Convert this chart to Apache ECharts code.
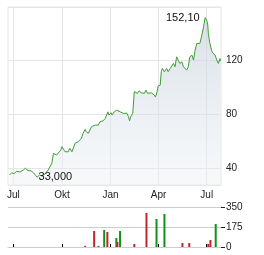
<!DOCTYPE html>
<html><head><meta charset="utf-8">
<script src="https://cdn.jsdelivr.net/npm/echarts@6/dist/echarts.min.js"></script>
<style>html,body{margin:0;padding:0;background:#fff}#c{width:264px;height:255px}</style>
</head><body><div id="c"></div>
<script>
const startDate = '2023-06-21';
const endDate = '2024-07-28';
const monthLabels = {'01':'Jan','04':'Apr','07':'Jul','10':'Okt'};
const priceMin = 27.2, priceMax = 160, priceStep = 40;
const volMax = 350, volStep = 175;

const priceDates = ['2023-06-24','2023-06-28','2023-07-02','2023-07-07','2023-07-14','2023-07-20','2023-07-24','2023-07-29','2023-08-04','2023-08-08','2023-08-12','2023-08-15','2023-08-20','2023-08-24','2023-08-30','2023-09-05','2023-09-12','2023-09-15','2023-09-18','2023-09-21','2023-09-24','2023-09-29','2023-10-01','2023-10-04','2023-10-07','2023-10-10','2023-10-13','2023-10-16','2023-10-20','2023-10-23','2023-10-26','2023-10-29','2023-11-01','2023-11-04','2023-11-07','2023-11-10','2023-11-14','2023-11-16','2023-11-20','2023-11-23','2023-11-26','2023-11-29','2023-12-03','2023-12-06','2023-12-09','2023-12-12','2023-12-15','2023-12-18','2023-12-22','2023-12-25','2023-12-27','2023-12-29','2024-01-02','2024-01-04','2024-01-08','2024-01-13','2024-01-16','2024-01-19','2024-01-22','2024-01-25','2024-01-28','2024-02-01','2024-02-04','2024-02-06','2024-02-08','2024-02-12','2024-02-14','2024-02-15','2024-02-18','2024-02-21','2024-02-24','2024-02-28','2024-03-02','2024-03-05','2024-03-08','2024-03-11','2024-03-14','2024-03-18','2024-03-21','2024-03-24','2024-03-26','2024-03-29','2024-03-31','2024-04-04','2024-04-06','2024-04-08','2024-04-12','2024-04-16','2024-04-19','2024-04-23','2024-04-26','2024-04-29','2024-05-02','2024-05-05','2024-05-08','2024-05-11','2024-05-15','2024-05-18','2024-05-21','2024-05-24','2024-05-27','2024-05-30','2024-06-03','2024-06-06','2024-06-09','2024-06-12','2024-06-15','2024-06-18','2024-06-21','2024-06-25','2024-06-28','2024-07-01','2024-07-03','2024-07-04','2024-07-07','2024-07-10','2024-07-13','2024-07-17','2024-07-20','2024-07-23','2024-07-26','2024-07-27'];
const priceValues = [34.7,36.4,35.6,37.4,36.9,38.4,39.7,37.9,37.7,36.4,34.5,33.0,34.7,33.9,35.4,38.4,43.4,50.8,52.0,49.6,48.3,53.3,55.8,54.6,52.0,53.3,52.0,54.6,52.0,53.3,58.3,58.7,59.5,60.2,62.0,65.8,68.7,66.9,65.8,68.2,70.7,69.5,71.9,72.7,71.9,74.4,75.7,75.1,76.9,78.1,81.8,79.4,81.1,79.4,81.8,83.1,84.4,81.8,83.1,80.7,79.4,80.7,78.1,75.1,78.1,80.7,81.8,96.8,98.0,95.6,97.5,96.0,96.8,95.6,98.0,95.6,94.3,96.0,96.8,94.3,92.8,96.8,101.0,101.7,111.7,114.2,111.7,114.2,111.7,114.2,112.9,117.9,115.4,122.8,120.4,117.9,119.1,115.4,116.6,112.9,115.4,122.8,124.1,120.4,127.8,132.8,134.0,132.8,137.7,145.2,152.1,150.2,146.5,140.3,132.8,127.8,125.4,124.1,120.4,117.9,121.6,119.6];

const volDates = ['2023-11-14','2023-12-01','2023-12-09','2023-12-20','2023-12-26','2024-01-12','2024-01-14','2024-01-19','2024-02-15','2024-03-09','2024-03-28','2024-04-12','2024-05-16','2024-05-29','2024-07-04','2024-07-08','2024-07-18'];
const volValues = [10,140,10,149,131,79,44,140,26,298,245,289,35,35,26,61,201];
const volUp = [false,false,true,true,false,true,false,true,false,false,true,true,false,false,false,false,true];

// axis domain: one category per calendar day
const categories = [];
for (let d = new Date(startDate + 'T00:00:00Z'); d <= new Date(endDate + 'T00:00:00Z'); d.setUTCDate(d.getUTCDate() + 1)) {
  categories.push(d.toISOString().slice(0, 10));
}
const isQuarterStart = (i, v) => v.slice(8) === '01' && monthLabels[v.slice(5, 7)] !== undefined;

const fontFamily = '"Liberation Sans", Arial, sans-serif';
const chart = echarts.init(document.getElementById('c'), null, {renderer: 'canvas'});
chart.setOption({
  animation: false,
  grid: [
    {left: 8, right: 43, top: 7, bottom: 70, show: true, borderColor: '#e6e6e6', borderWidth: 1},
    {left: 8, right: 43, top: 207, bottom: 8}
  ],
  xAxis: [
    {
      type: 'category', gridIndex: 0, data: categories, boundaryGap: false,
      axisLine: {show: false}, axisTick: {show: false},
      axisLabel: {interval: isQuarterStart, formatter: v => monthLabels[v.slice(5, 7)], color: '#222', fontSize: 10, fontFamily, margin: 5},
      splitLine: {show: true, interval: isQuarterStart, lineStyle: {color: '#e6e6e6', width: 1}}
    },
    {
      type: 'category', gridIndex: 1, data: categories, boundaryGap: false, position: 'top',
      axisLine: {show: true, lineStyle: {color: '#cccccc', width: 1}},
      axisTick: {show: true, interval: isQuarterStart, length: 3, lineStyle: {color: '#000', width: 1}},
      axisLabel: {show: false}, splitLine: {show: false}
    }
  ],
  yAxis: [
    {
      type: 'value', gridIndex: 0, position: 'right', min: priceMin, max: priceMax,
      minInterval: priceStep, maxInterval: priceStep,
      axisLine: {show: false},
      axisTick: {show: false},
      axisLabel: {showMinLabel: false, showMaxLabel: false, color: '#222', fontSize: 10, fontFamily, margin: 5},
      splitLine: {show: true, lineStyle: {color: '#e6e6e6', width: 1}}
    },
    {
      type: 'value', gridIndex: 1, position: 'right', min: 0, max: volMax, interval: volStep,
      axisLine: {show: false},
      axisTick: {show: true, length: 4, lineStyle: {color: '#222', width: 1}},
      axisLabel: {color: '#222', fontSize: 10, fontFamily, margin: 5},
      splitLine: {show: true, lineStyle: {color: '#cccccc', width: 1}}
    }
  ],
  series: [
    {
      type: 'line', xAxisIndex: 0, yAxisIndex: 0,
      data: priceDates.map((d, i) => [d, priceValues[i]]),
      showSymbol: false, symbol: 'none',
      lineStyle: {color: '#3f9c37', width: 1},
      areaStyle: {color: new echarts.graphic.LinearGradient(0, 0, 0, 1, [
        {offset: 0, color: 'rgba(196,207,218,0.9)'},
        {offset: 1, color: 'rgba(236,240,244,0.6)'}
      ])},
      markPoint: {
        symbol: 'circle', symbolSize: 1, itemStyle: {color: 'rgba(0,0,0,0)'},
        data: [
          {type: 'max', label: {position: 'left', distance: 5, formatter: p => p.value.toFixed(2).replace('.', ','), color: '#111', fontSize: 11, fontFamily}},
          {type: 'min', label: {position: 'right', distance: 1, formatter: p => p.value.toFixed(3).replace('.', ','), color: '#111', fontSize: 11, fontFamily}}
        ]
      }
    },
    {
      type: 'bar', xAxisIndex: 1, yAxisIndex: 1, barWidth: 2,
      data: volDates.map((d, i) => ({value: [d, volValues[i]], itemStyle: {color: volUp[i] ? '#11901a' : '#c0262c'}}))
    }
  ]
});
</script></body></html>
